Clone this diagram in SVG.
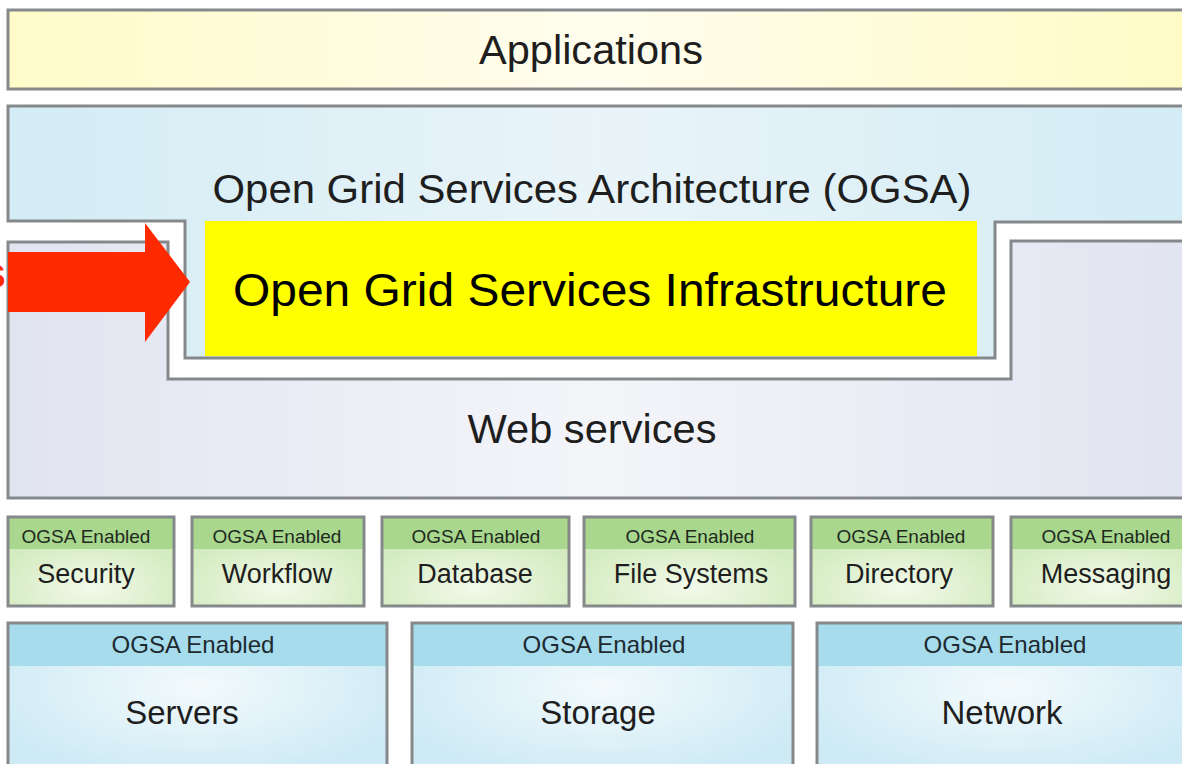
<svg xmlns="http://www.w3.org/2000/svg" width="1182" height="764" viewBox="0 0 1182 764">
<defs>
<linearGradient id="gApp" x1="0" y1="0" x2="1" y2="0">
<stop offset="0" stop-color="#fffbc9"/><stop offset="0.5" stop-color="#fffdee"/><stop offset="1" stop-color="#fffbc6"/>
</linearGradient>
<linearGradient id="gOgsa" x1="0" y1="0" x2="1" y2="0">
<stop offset="0" stop-color="#d3ecf5"/><stop offset="0.5" stop-color="#e9f4f8"/><stop offset="1" stop-color="#d3ecf5"/>
</linearGradient>
<linearGradient id="gWs" x1="0" y1="0" x2="1" y2="0">
<stop offset="0" stop-color="#e1e4f1"/><stop offset="0.5" stop-color="#f4f5f9"/><stop offset="1" stop-color="#e1e4f1"/>
</linearGradient>
<radialGradient id="gGreen" cx="0.5" cy="0.8" r="0.6">
<stop offset="0" stop-color="#f2f9ea"/><stop offset="1" stop-color="#d3ebbf"/>
</radialGradient>
<radialGradient id="gBlue" cx="0.5" cy="0.4" r="0.6">
<stop offset="0" stop-color="#f3fafc"/><stop offset="1" stop-color="#cdeaf5"/>
</radialGradient>
</defs>
<style>
.frame{stroke:#85898b;stroke-width:3}
.big{font-family:"Liberation Sans",Arial,sans-serif;font-size:41px;fill:#1e1e1e;text-anchor:middle}
.ghead{fill:#a8d78d}
.bhead{fill:#a6dcec}
.gt{font-family:"Liberation Sans",Arial,sans-serif;font-size:19px;fill:#1e2a1e;text-anchor:middle}
.gm{font-family:"Liberation Sans",Arial,sans-serif;font-size:27px;fill:#1e1e1e;text-anchor:middle}
.bt{font-family:"Liberation Sans",Arial,sans-serif;font-size:24px;fill:#1e2a30;text-anchor:middle}
.bm{font-family:"Liberation Sans",Arial,sans-serif;font-size:33px;fill:#1e1e1e;text-anchor:middle}
</style>
<rect width="1182" height="764" fill="#ffffff"/>

<g id="applications">
<rect x="8" y="10" width="1180" height="79" fill="url(#gApp)" class="frame"/>
<text x="591" y="64" class="big" textLength="224" lengthAdjust="spacingAndGlyphs">Applications</text>
</g>

<g id="ogsa">
<path d="M8,106 H1188 V222 H995 V358 H185 V221 H8 Z" fill="url(#gOgsa)" class="frame"/>
<text x="592" y="203" class="big" textLength="759" lengthAdjust="spacingAndGlyphs">Open Grid Services Architecture (OGSA)</text>
</g>

<g id="web-services">
<path d="M8,242 H168 V379 H1011 V241 H1188 V498 H8 Z" fill="url(#gWs)" class="frame"/>
<text x="592" y="443" class="big" textLength="249" lengthAdjust="spacingAndGlyphs">Web services</text>
</g>

<g id="ogsi">
<rect x="205" y="221" width="772" height="135" fill="#ffff00"/>
<text x="590" y="306" font-family="Liberation Sans, Arial, sans-serif" font-size="47" fill="#000000" text-anchor="middle" textLength="714" lengthAdjust="spacingAndGlyphs">Open Grid Services Infrastructure</text>
</g>

<g id="security">
<rect x="8" y="517" width="166" height="89" fill="url(#gGreen)"/>
<rect x="8" y="517" width="166" height="32" class="ghead"/>
<rect x="8" y="517" width="166" height="89" fill="none" class="frame"/>
<text x="86" y="543" class="gt">OGSA Enabled</text>
<text x="86" y="583" class="gm">Security</text>
</g>
<g id="workflow">
<rect x="192" y="517" width="172" height="89" fill="url(#gGreen)"/>
<rect x="192" y="517" width="172" height="32" class="ghead"/>
<rect x="192" y="517" width="172" height="89" fill="none" class="frame"/>
<text x="277" y="543" class="gt">OGSA Enabled</text>
<text x="277" y="583" class="gm">Workflow</text>
</g>
<g id="database">
<rect x="382" y="517" width="187" height="89" fill="url(#gGreen)"/>
<rect x="382" y="517" width="187" height="32" class="ghead"/>
<rect x="382" y="517" width="187" height="89" fill="none" class="frame"/>
<text x="476" y="543" class="gt">OGSA Enabled</text>
<text x="475" y="583" class="gm">Database</text>
</g>
<g id="file-systems">
<rect x="584" y="517" width="211" height="89" fill="url(#gGreen)"/>
<rect x="584" y="517" width="211" height="32" class="ghead"/>
<rect x="584" y="517" width="211" height="89" fill="none" class="frame"/>
<text x="690" y="543" class="gt">OGSA Enabled</text>
<text x="691" y="583" class="gm">File Systems</text>
</g>
<g id="directory">
<rect x="811" y="517" width="182" height="89" fill="url(#gGreen)"/>
<rect x="811" y="517" width="182" height="32" class="ghead"/>
<rect x="811" y="517" width="182" height="89" fill="none" class="frame"/>
<text x="901" y="543" class="gt">OGSA Enabled</text>
<text x="899" y="583" class="gm">Directory</text>
</g>
<g id="messaging">
<rect x="1011" y="517" width="190" height="89" fill="url(#gGreen)"/>
<rect x="1011" y="517" width="190" height="32" class="ghead"/>
<rect x="1011" y="517" width="190" height="89" fill="none" class="frame"/>
<text x="1106" y="543" class="gt">OGSA Enabled</text>
<text x="1106" y="583" class="gm">Messaging</text>
</g>

<g id="servers">
<rect x="8" y="623" width="379" height="160" fill="url(#gBlue)"/>
<rect x="8" y="623" width="379" height="43" class="bhead"/>
<rect x="8" y="623" width="379" height="160" fill="none" class="frame"/>
<text x="193" y="653" class="bt">OGSA Enabled</text>
<text x="182" y="724" class="bm">Servers</text>
</g>
<g id="storage">
<rect x="412" y="623" width="381" height="160" fill="url(#gBlue)"/>
<rect x="412" y="623" width="381" height="43" class="bhead"/>
<rect x="412" y="623" width="381" height="160" fill="none" class="frame"/>
<text x="604" y="653" class="bt">OGSA Enabled</text>
<text x="598" y="724" class="bm">Storage</text>
</g>
<g id="network">
<rect x="817" y="623" width="380" height="160" fill="url(#gBlue)"/>
<rect x="817" y="623" width="380" height="43" class="bhead"/>
<rect x="817" y="623" width="380" height="160" fill="none" class="frame"/>
<text x="1005" y="653" class="bt">OGSA Enabled</text>
<text x="1002" y="724" class="bm">Network</text>
</g>

<g id="connectors">
<polygon points="8,252 145,252 145,223 190,282 145,342 145,312 8,312" fill="#ff2a00"/>
<text x="6" y="288" font-family="Liberation Sans, Arial, sans-serif" font-size="44" font-weight="bold" fill="#ff2a00" text-anchor="end">s</text>
</g>
</svg>
